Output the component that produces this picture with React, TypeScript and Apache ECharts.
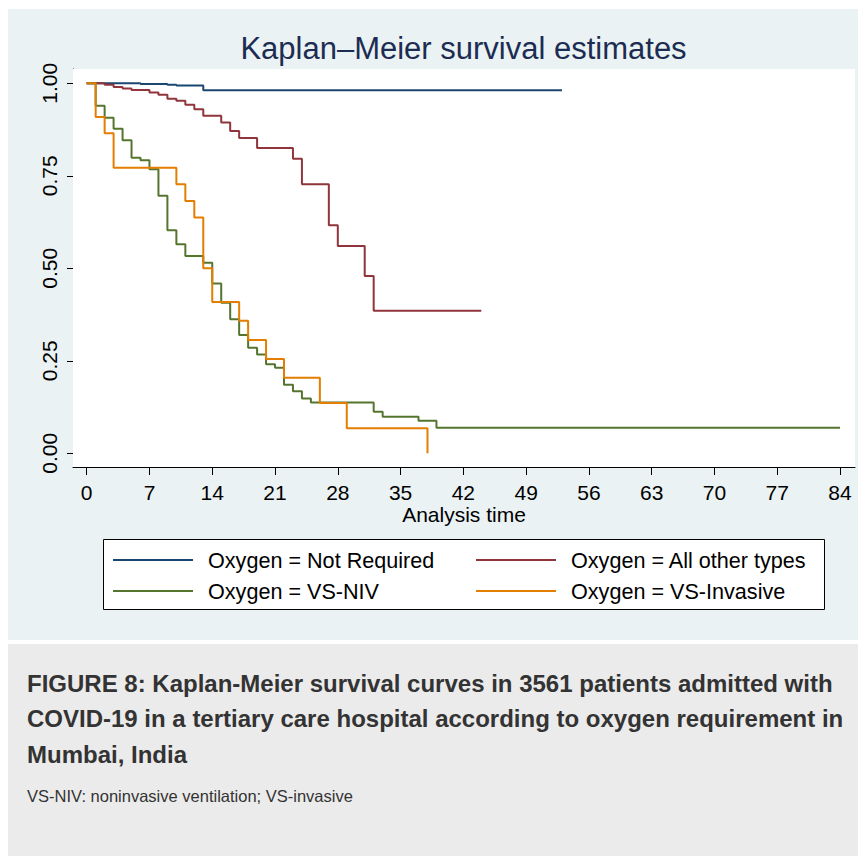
import React, { useEffect, useRef } from "react";
import * as echarts from "echarts";

// ---- data ----
const seriesNames = [
  "Oxygen = Not Required",
  "Oxygen = All other types",
  "Oxygen = VS-NIV",
  "Oxygen = VS-Invasive",
];
const seriesColors = ["#1a476f", "#90353b", "#55752f", "#e37e00"];

const notRequiredDays = [0, 6, 9, 10, 13, 53];
const notRequiredSurv = [1, 0.998, 0.996, 0.994, 0.981, 0.981];

const otherTypesDays = [0, 2, 3, 4, 5, 7, 8, 9, 10, 11, 12, 13, 15, 16, 17, 19, 23, 24, 27, 28, 31, 32, 44];
const otherTypesSurv = [1, 0.996, 0.99, 0.986, 0.982, 0.975, 0.969, 0.958, 0.953, 0.942, 0.93, 0.912, 0.894, 0.871, 0.852, 0.825, 0.796, 0.727, 0.616, 0.56, 0.479, 0.385, 0.385];

const vsNivDays = [0, 1, 2, 3, 4, 5, 6, 7, 8, 9, 10, 11, 13, 14, 15, 16, 17, 18, 19, 20, 21, 22, 23, 24, 25, 32, 33, 37, 39, 84];
const vsNivSurv = [1, 0.939, 0.907, 0.877, 0.846, 0.799, 0.792, 0.768, 0.696, 0.603, 0.565, 0.533, 0.515, 0.459, 0.407, 0.362, 0.32, 0.285, 0.267, 0.241, 0.231, 0.185, 0.168, 0.148, 0.137, 0.112, 0.099, 0.088, 0.069, 0.069];

const vsInvasiveDays = [0, 1, 2, 3, 10, 11, 12, 13, 14, 17, 18, 20, 22, 26, 29, 38];
const vsInvasiveSurv = [1, 0.909, 0.865, 0.772, 0.727, 0.682, 0.637, 0.5, 0.409, 0.358, 0.306, 0.255, 0.204, 0.136, 0.068, 0];

const xTicks = [0, 7, 14, 21, 28, 35, 42, 49, 56, 63, 70, 77, 84];
const yTicks = [0, 0.25, 0.5, 0.75, 1];

const chartTitle = "Kaplan\u2013Meier survival estimates";
const xAxisTitle = "Analysis time";
const captionLines = [
  "FIGURE 8: Kaplan-Meier survival curves in 3561 patients admitted with",
  "COVID-19 in a tertiary care hospital according to oxygen requirement in",
  "Mumbai, India",
];
const footnote = "VS-NIV: noninvasive ventilation; VS-invasive";

const FONT = "'Liberation Sans', Arial, Helvetica, sans-serif";

function pairs(xs: number[], ys: number[]) {
  return xs.map((x, i) => [x, ys[i]]);
}

export default function App() {
  const ref = useRef<HTMLDivElement>(null);

  useEffect(() => {
    if (!ref.current) return;
    const chart = echarts.init(ref.current, undefined, { renderer: "svg" });

    const allData = [
      pairs(notRequiredDays, notRequiredSurv),
      pairs(otherTypesDays, otherTypesSurv),
      pairs(vsNivDays, vsNivSurv),
      pairs(vsInvasiveDays, vsInvasiveSurv),
    ];

    const legendCommon = {
      orient: "vertical" as const,
      top: 541,
      itemWidth: 80,
      itemHeight: 2,
      itemGap: 9,
      icon: "rect",
      padding: 0,
      selectedMode: false,
      z: 10,
      textStyle: {
        fontFamily: FONT,
        fontSize: 21.6,
        lineHeight: 22,
        color: "#000",
        padding: [0, 0, 0, 10],
      },
    };

    chart.setOption({
      animation: false,
      backgroundColor: "#ffffff",
      textStyle: { fontFamily: FONT },
      grid: {
        left: 65,
        top: 61,
        width: 782,
        height: 398,
        show: true,
        backgroundColor: "#ffffff",
        borderWidth: 0,
        outerBoundsMode: "none",
        z: 1,
      },
      xAxis: {
        type: "value",
        min: -1.527,
        max: 85.67,
        name: xAxisTitle,
        nameLocation: "middle",
        nameGap: 37,
        nameTextStyle: { fontFamily: FONT, fontSize: 21, color: "#000" },
        axisLine: { show: true, onZero: false, lineStyle: { color: "#000", width: 1 } },
        axisTick: { show: true, length: 8, customValues: xTicks, lineStyle: { color: "#000" } },
        axisLabel: {
          customValues: xTicks,
          fontFamily: FONT,
          fontSize: 21,
          color: "#000",
          margin: 15,
          formatter: (v: number) => String(v),
        },
        splitLine: { show: false },
      },
      yAxis: {
        type: "value",
        min: -0.037,
        max: 1.0386,
        axisLine: { show: true, onZero: false, lineStyle: { color: "#000", width: 1 } },
        axisTick: { show: true, length: 6, customValues: yTicks, lineStyle: { color: "#000" } },
        axisLabel: {
          customValues: yTicks,
          rotate: 90,
          fontFamily: FONT,
          fontSize: 21,
          color: "#000",
          margin: 13,
          formatter: (v: number) => v.toFixed(2),
        },
        splitLine: { show: true, lineStyle: { color: "#eaf2f3", width: 1.5 } },
      },
      legend: [
        { ...legendCommon, left: 105, data: [seriesNames[0], seriesNames[2]] },
        { ...legendCommon, left: 468, data: [seriesNames[1], seriesNames[3]] },
      ],
      series: allData.map((d, i) => ({
        name: seriesNames[i],
        type: "line",
        step: "end",
        data: d,
        showSymbol: false,
        symbol: "none",
        color: seriesColors[i],
        lineStyle: { color: seriesColors[i], width: 2 },
        z: 3 + i,
      })),
      graphic: [
        {
          type: "rect",
          z: -10,
          shape: { x: 0, y: 1, width: 858, height: 631 },
          style: { fill: "#eaf2f3" },
        },
        {
          type: "rect",
          z: -10,
          shape: { x: 0, y: 636, width: 858, height: 212 },
          style: { fill: "#ebebeb" },
        },
        {
          type: "rect",
          z: -5,
          shape: { x: 95.5, y: 531.5, width: 721, height: 70 },
          style: { fill: "#ffffff", stroke: "#000", lineWidth: 1 },
        },
        {
          type: "text",
          x: 455.5,
          y: 40,
          style: {
            text: chartTitle,
            font: `31px ${FONT}`,
            fill: "#1c2c52",
            textAlign: "center",
            textVerticalAlign: "middle",
          },
        },
        ...captionLines.map((t, i) => ({
          type: "text",
          x: 19,
          y: 675 + i * 35.5,
          style: {
            text: t,
            font: `bold 24px ${FONT}`,
            fill: "#333333",
            textAlign: "left",
            textVerticalAlign: "middle",
          },
        })),
        {
          type: "text",
          x: 19,
          y: 788,
          style: {
            text: footnote,
            font: `16.5px ${FONT}`,
            fill: "#333333",
            textAlign: "left",
            textVerticalAlign: "middle",
          },
        },
      ],
    });

    return () => chart.dispose();
  }, []);

  return <div ref={ref} style={{ width: 858, height: 848 }} />;
}
